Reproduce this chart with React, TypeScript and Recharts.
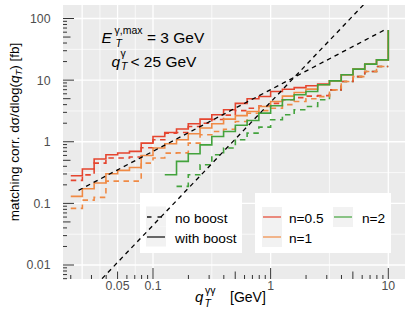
import React from 'react';
import { LineChart, Line, XAxis, YAxis, CartesianGrid, Customized } from 'recharts';

// lower bin edges of q_T^{γγ} (GeV); last entry is the upper edge of the last bin
const binEdges = [0.0200, 0.0251, 0.0316, 0.0398, 0.0501, 0.0631, 0.0794, 0.1000, 0.1259, 0.1585, 0.1995, 0.2512, 0.3162, 0.3981, 0.5012, 0.6310, 0.7943, 1.0000, 1.259, 1.585, 1.995, 2.512, 3.162, 3.981, 5.012, 6.310, 7.943, 10.0];

// with boost (solid)
const redSolid = [0.281, 0.361, 0.524, 0.616, 0.656, 0.697, 0.95, 1.22, 1.415, 1.607, 1.96, 2.33, 2.74, 3.30, 4.2, 4.98, 5.42, 6.54, 7.13, 7.57, 8.09, 8.6, 9.74, 12.2, 15.1, 18.2, 21.3, 65];
const orangeSolid = [0.13, 0.173, 0.214, 0.303, 0.343, 0.383, 0.6, 0.79, 0.93, 1.08, 1.35, 1.67, 1.96, 2.33, 2.65, 3.1, 3.73, 4.5, 5.5, 6.3, 7.15, 8.4, 9.74, 12.2, 15.1, 18.2, 21.3, 65];
const greenSolid = [null, null, null, null, null, null, null, null, 0.292, 0.48, 0.64, 0.89, 1.22, 1.47, 1.85, 2.21, 2.92, 3.83, 4.8, 5.78, 6.54, 8.4, 9.74, 12.2, 15.1, 18.2, 21.3, 65];

// no boost (dashed)
const redDashed = [0.236, 0.29, 0.45, 0.545, 0.545, 0.565, 0.8, 1.08, 1.38, 1.41, 1.77, 2.0, 2.3, 2.7, 3.2, 3.5, 3.8, 4.2, 4.8, 5.2, 5.5, 5.6, 6.96, 9.5, 11.4, 13.8, 16.6, 16.6];
const orangeDashed = [0.083, 0.113, 0.125, 0.23, 0.23, 0.23, 0.45, 0.545, 0.655, 0.66, 0.95, 1.3, 1.47, 1.6, 2.13, 2.9, 3.2, 3.5, 4.0, 4.5, 5.0, 5.4, 6.96, 9.5, 11.4, 13.8, 16.6, 16.6];
const greenDashed = [null, null, null, null, null, null, null, null, null, 0.189, 0.292, 0.424, 0.616, 0.79, 1.08, 1.38, 1.73, 2.27, 2.74, 3.3, 3.73, 4.8, 6.96, 9.5, 11.4, 13.8, 16.6, 16.6];

// black dashed reference lines (end points)
const linRefX = [0.0233, 9.4];
const linRefY = [0.163, 66];
const quadRefX = [0.0233, 10.5];
const quadRefY = [0.0024, 485];

const xTicks = [0.02, 0.03, 0.04, 0.05, 0.06, 0.07, 0.08, 0.09, 0.1, 0.2, 0.3, 0.4, 0.5, 0.6, 0.7, 0.8, 0.9, 1, 2, 3, 4, 5, 6, 7, 8, 9, 10];
const xTickLabels = ['0.05', '0.1', '1', '10'];
const yTicks = [0.006, 0.007, 0.008, 0.009, 0.01, 0.02, 0.03, 0.04, 0.05, 0.06, 0.07, 0.08, 0.09, 0.1, 0.2, 0.3, 0.4, 0.5, 0.6, 0.7, 0.8, 0.9, 1, 2, 3, 4, 5, 6, 7, 8, 9, 10, 20, 30, 40, 50, 60, 70, 80, 90, 100];
const yTickLabels = ['0.01', '0.1', '1', '10', '100'];

const xGridMajor = [0.025, 0.05, 0.1, 1, 10];
const xGridMinor = [0.0354, 0.0707, 0.316, 3.16];
const yGridMajor = [0.01, 0.1, 1, 10, 100];
const yGridMinor = [0.0316, 0.316, 3.16, 31.6];

const RED = '#e5452f';
const ORANGE = '#f08a45';
const GREEN = '#43a33d';
const FONT = '"Liberation Sans", Arial, Helvetica, sans-serif';

const toData = (xs: number[], ys: (number | null)[]) =>
  xs.map((x, i) => ({ x, y: ys[i] })).filter((d) => d.y !== null && d.y !== undefined);

const tickLen = (v: number) => {
  const lg = Math.log10(v);
  const m = v / Math.pow(10, Math.floor(lg + 1e-9));
  if (Math.abs(m - 1) < 1e-6) return 11;
  if (Math.abs(m - 5) < 1e-6) return 7.5;
  return 4;
};

const fmt = (v: number) => String(Number(v.toPrecision(6)));

const XTick = (props: any) => {
  const { x, y, payload } = props;
  const v = payload.value;
  const len = tickLen(v);
  const lab = fmt(v);
  return (
    <g>
      <line x1={x} x2={x} y1={y} y2={y - len} stroke="#333" strokeWidth={1} />
      {xTickLabels.includes(lab) && (
        <text x={x} y={y + 11} textAnchor="middle" fontSize={12.3} fill="#4d4d4d" fontFamily={FONT}>{lab}</text>
      )}
    </g>
  );
};

const YTick = (props: any) => {
  const { x, y, payload } = props;
  const v = payload.value;
  const len = tickLen(v);
  const lab = fmt(v);
  return (
    <g>
      <line x1={x} x2={x + len} y1={y} y2={y} stroke="#333" strokeWidth={1} />
      {yTickLabels.includes(lab) && (
        <text x={x - 12.5} y={y + 4.4} textAnchor="end" fontSize={12.3} fill="#4d4d4d" fontFamily={FONT}>{lab}</text>
      )}
    </g>
  );
};

const Overlay = () => (
  <g fontFamily={FONT}>
    {/* annotation */}
    <text x={101.5} y={43.3} fontSize={15.5} fontStyle="italic">E</text>
    <text x={114.5} y={33.5} fontSize={10.5}>γ,max</text>
    <text x={115.5} y={46.5} fontSize={10.5} fontStyle="italic">T</text>
    <text x={147} y={43.3} fontSize={15.5}>= 3 GeV</text>
    <text x={111.5} y={66.5} fontSize={15.5} fontStyle="italic">q</text>
    <text x={120.5} y={56.5} fontSize={10.5}>γ</text>
    <text x={121} y={70} fontSize={10.5} fontStyle="italic">T</text>
    <text x={130.5} y={66.5} fontSize={15.5}>&lt; 25 GeV</text>

    {/* legend 1: line type */}
    <rect x={140} y={193} width={102} height={60} fill="#fff" />
    <rect x={146} y={206.5} width={20} height={20} fill="#f2f2f2" />
    <rect x={146} y={226.5} width={20} height={20} fill="#f2f2f2" />
    <line x1={147} x2={164.5} y1={217} y2={217} stroke="#1a1a1a" strokeWidth={1.3} strokeDasharray="4.5 6" />
    <line x1={147} x2={165} y1={237} y2={237} stroke="#1a1a1a" strokeWidth={1.3} />
    <text x={175} y={223} fontSize={13.7}>no boost</text>
    <text x={175} y={243} fontSize={13.7}>with boost</text>

    {/* legend 2: colours */}
    <rect x={255} y={193} width={136} height={60} fill="#fff" />
    <rect x={262} y={207} width={20} height={20} fill="#f2f2f2" />
    <rect x={262} y={227} width={20} height={20} fill="#f2f2f2" />
    <rect x={333} y={207} width={20} height={20} fill="#f2f2f2" />
    <line x1={263} x2={281} y1={217} y2={217} stroke={RED} strokeWidth={1.2} />
    <line x1={263} x2={281} y1={237} y2={237} stroke={ORANGE} strokeWidth={1.2} />
    <line x1={334} x2={352} y1={217} y2={217} stroke={GREEN} strokeWidth={1.2} />
    <text x={289} y={223} fontSize={13.7}>n=0.5</text>
    <text x={289} y={243} fontSize={13.7}>n=1</text>
    <text x={362} y={223} fontSize={13.7}>n=2</text>

    {/* axis titles */}
    <text x={195} y={302} fontSize={15} fontStyle="italic">q</text>
    <text x={205} y={294} fontSize={10.5}>γγ</text>
    <text x={204.5} y={306.5} fontSize={10.5} fontStyle="italic">T</text>
    <text x={230} y={302} fontSize={14}>[GeV]</text>
    <text transform="rotate(-90)" x={-132} y={19} textAnchor="middle" fontSize={13.5}>
      matching corr. dσ/dlog(<tspan fontStyle="italic">q</tspan>
      <tspan fontStyle="italic" fontSize={9.5} dy={3}>T</tspan>
      <tspan dy={-3}>) [fb]</tspan>
    </text>
  </g>
);

const series = [
  { key: 'gd', data: toData(binEdges, greenDashed), color: GREEN, dash: '5.5 4.5' },
  { key: 'rd', data: toData(binEdges, redDashed), color: RED, dash: '5.5 4.5' },
  { key: 'od', data: toData(binEdges, orangeDashed), color: ORANGE, dash: '5.5 4.5' },
  { key: 'rs', data: toData(binEdges, redSolid), color: RED, dash: undefined },
  { key: 'os', data: toData(binEdges, orangeSolid), color: ORANGE, dash: undefined },
  { key: 'gs', data: toData(binEdges, greenSolid), color: GREEN, dash: undefined },
];

export default function App() {
  return (
    <div style={{ position: 'absolute', left: 0, top: 0, width: 411, height: 329, background: '#fff' }}>
      <LineChart width={411} height={329} margin={{ top: 5, right: 6, bottom: 0, left: 0 }}>
        <CartesianGrid fill="#ebebeb" stroke="#ffffff" strokeWidth={0.7} horizontalValues={yGridMinor} verticalValues={xGridMinor} />
        <CartesianGrid fill="none" stroke="#ffffff" strokeWidth={1.3} horizontalValues={yGridMajor} verticalValues={xGridMajor} />
        <XAxis
          type="number"
          dataKey="x"
          scale="log"
          domain={[0.01718, 13.87]}
          allowDataOverflow
          ticks={xTicks}
          interval={0}
          tick={(p: any) => <XTick {...p} />}
          tickLine={false}
          axisLine={false}
          tickSize={0}
          tickMargin={0}
          height={50}
        />
        <YAxis
          type="number"
          dataKey="y"
          scale="log"
          domain={[0.00593, 165.6]}
          allowDataOverflow
          ticks={yTicks}
          interval={0}
          tick={(p: any) => <YTick {...p} />}
          tickLine={false}
          axisLine={false}
          tickSize={0}
          tickMargin={0}
          width={63}
        />
        {series.map((s) => (
          <Line
            key={s.key}
            data={s.data}
            dataKey="y"
            type="stepAfter"
            stroke={s.color}
            strokeWidth={1.6}
            strokeDasharray={s.dash}
            dot={false}
            activeDot={false}
            isAnimationActive={false}
          />
        ))}
        <Line data={toData(linRefX, linRefY)} dataKey="y" type="linear" stroke="#000" strokeWidth={1.3} strokeDasharray="4.5 4" dot={false} activeDot={false} isAnimationActive={false} />
        <Line data={toData(quadRefX, quadRefY)} dataKey="y" type="linear" stroke="#000" strokeWidth={1.3} strokeDasharray="4.5 4" dot={false} activeDot={false} isAnimationActive={false} />
        <Customized component={Overlay} />
      </LineChart>
    </div>
  );
}
